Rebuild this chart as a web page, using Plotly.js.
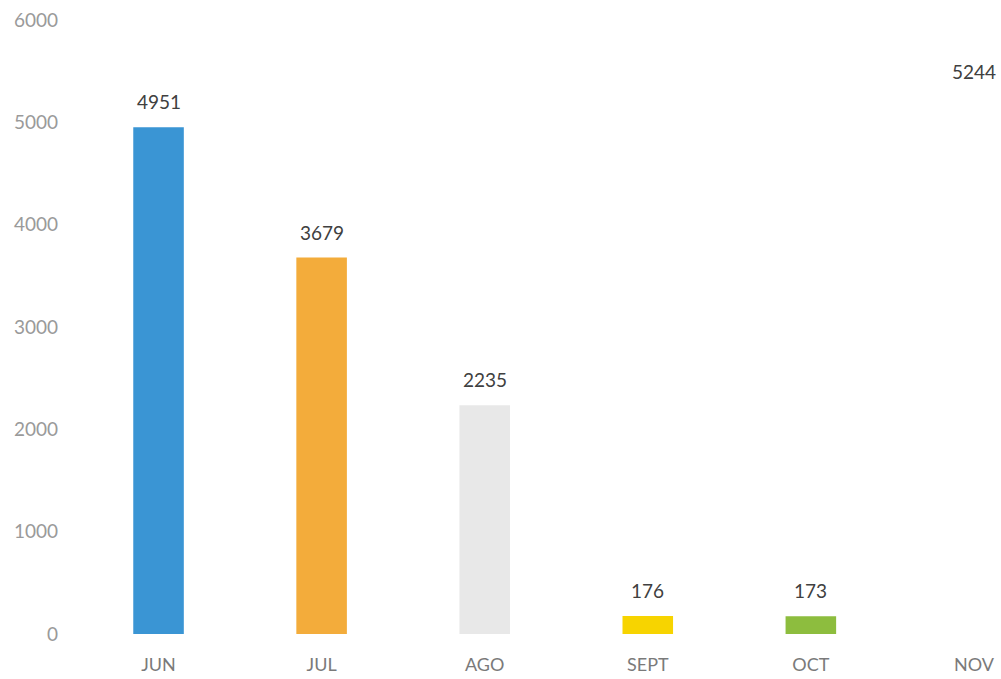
<!DOCTYPE html>
<html>
<head>
<meta charset="utf-8">
<script src="https://cdn.plot.ly/plotly-3.0.1.min.js"></script>
<style>html,body{margin:0;padding:0;background:#fff;}#chart{width:1001px;height:679px;}</style>
</head>
<body>
<div id="chart"></div>
<script>
const months = ["JUN", "JUL", "AGO", "SEPT", "OCT", "NOV"];
const values = [4951, 3679, 2235, 176, 173, 5244];
const barColors = ["#3a95d4", "#f3ac3b", "#e8e8e8", "#f7d400", "#8dbd3e", "#ffffff"];
const yTicks = [0, 1000, 2000, 3000, 4000, 5000, 6000];

const trace = {
  type: "bar",
  x: months,
  y: values,
  marker: { color: barColors },
  hoverinfo: "x+y"
};

const annotations = months.map((m, i) => ({
  x: m, y: values[i], text: String(values[i]),
  xref: "x", yref: "y", showarrow: false,
  yanchor: "bottom", yshift: 12,
  font: { family: "Lato, 'Open Sans', sans-serif", size: 19, color: "#404040" }
}));

const layout = {
  width: 1001, height: 679,
  margin: { l: 77, r: 0, t: 20, b: 45 },
  paper_bgcolor: "#ffffff", plot_bgcolor: "#ffffff",
  showlegend: false,
  bargap: 0.69,
  xaxis: {
    type: "category",
    range: [-0.5, 5.166],
    showgrid: false, zeroline: false, showline: false,
    ticks: "", ticklabelstandoff: 18,
    tickfont: { family: "Lato, 'Open Sans', sans-serif", size: 18, color: "#7a7a7a" }
  },
  yaxis: {
    range: [0, 6000],
    tickvals: yTicks,
    ticktext: yTicks.map(String),
    showgrid: false, zeroline: false, showline: false,
    ticks: "", ticklabelstandoff: 18,
    tickfont: { family: "Lato, 'Open Sans', sans-serif", size: 19, color: "#9a9a9a" }
  },
  annotations: annotations
};

Plotly.newPlot("chart", [trace], layout, { displayModeBar: false, staticPlot: true });
</script>
</body>
</html>
